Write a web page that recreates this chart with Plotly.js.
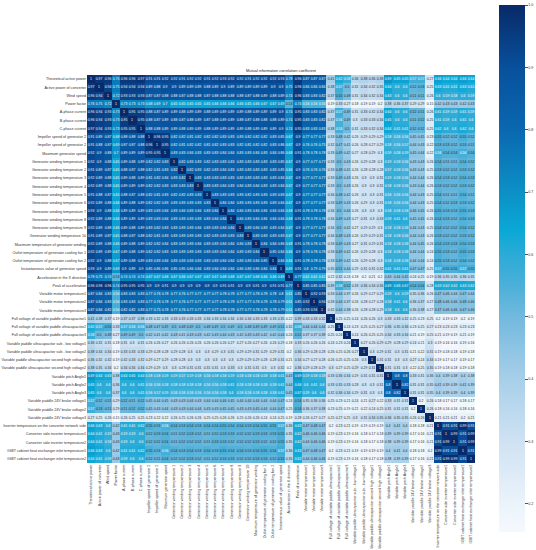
<!DOCTYPE html>
<html><head><meta charset="utf-8">
<script src="https://cdn.plot.ly/plotly-3.0.1.min.js"></script>
<style>html,body{margin:0;padding:0;background:#fff}</style></head>
<body><div id="chart" style="width:536px;height:550px"></div>
<script>
const labels = ["Theoretical active power","Active power of converter","Wind speed","Power factor","A-phase current","B-phase current","C-phase current","Impeller speed of generator 2","Impeller speed of generator 2","Maximum generator speed","Generator winding temperature 1","Generator winding temperature 2","Generator winding temperature 3","Generator winding temperature 4","Generator winding temperature 5","Generator winding temperature 6","Generator winding temperature 7","Generator winding temperature 8","Generator winding temperature 9","Generator winding temperature 10","Maximum temperature of generator winding","Outlet temperature of generator cooling fan 1","Outlet temperature of generator cooling fan 2","Instantaneous value of generator speed","Acceleration in the X direction","Peak of acceleration","Variable motor temperature1","Variable motor temperature2","Variable motor temperature3","Full voltage of variable paddle ultracapacitor1","Full voltage of variable paddle ultracapacitor2","Full voltage of variable paddle ultracapacitor3","Variable paddle ultracapacitor sub - low voltage1","Variable paddle ultracapacitor sub - low voltage2","Variable paddle ultracapacitor second high voltage1","Variable paddle ultracapacitor second high voltage2","Variable pitch Angle1","Variable pitch Angle2","Variable pitch Angle3","Variable paddle 24V brake voltage1","Variable paddle 24V brake voltage2","Variable paddle 24V brake voltage3","Inverter temperature on the converter network side","Converter side inverter temperature1","Converter side inverter temperature2","IGBT cabinet heat exchanger inlet temperature1","IGBT cabinet heat exchanger inlet temperature2"];

// Upper triangle of the symmetric matrix: each row starts at its diagonal cell.
const r01 = [1,.97,.96,.76,.96,.96,.97,.91,.91,.92,.92,.91,.92,.92,.91,.92,.93,.92,.92,.91,.92,.92,.92,.93,.78,.96,.87,.87,.87,.41,.62,.58,.36,.38,.36,.38,.69,.65,.65,.57,.57,.27,.66,.64,.64,.66,.64];
const r02 = [1,.94,.75,.94,.94,.94,.89,.88,.9,.9,.89,.89,.89,.88,.89,.9,.89,.89,.89,.89,.89,.9,.9,.75,.96,.84,.84,.84,.38,.57,.5,.32,.34,.32,.35,.64,.6,.6,.52,.53,.25,.63,.61,.61,.63,.61];
const r03 = [1,.72,.93,.93,.93,.87,.87,.88,.88,.87,.88,.88,.87,.88,.88,.88,.88,.87,.88,.89,.88,.89,.74,.96,.83,.83,.82,.37,.55,.48,.31,.34,.32,.34,.63,.6,.6,.51,.51,.26,.6,.59,.58,.6,.59];
const r04 = [1,.73,.73,.73,.68,.69,.7,.65,.65,.65,.65,.65,.66,.66,.66,.66,.65,.66,.67,.67,.69,.53,.74,.56,.56,.56,.19,.33,.27,.18,.19,.19,.2,.38,.36,.37,.29,.29,.15,.42,.43,.43,.42,.43];
const r05 = [1,.95,.95,.88,.87,.89,.89,.88,.89,.89,.88,.89,.89,.89,.89,.88,.89,.89,.89,.9,.74,.95,.83,.83,.82,.37,.57,.49,.31,.33,.32,.34,.64,.6,.6,.52,.51,.26,.61,.59,.59,.61,.59];
const r06 = [1,.95,.88,.87,.89,.88,.87,.88,.89,.87,.88,.89,.89,.88,.87,.88,.88,.88,.89,.74,.95,.83,.83,.82,.37,.56,.49,.3,.33,.33,.34,.65,.6,.6,.51,.52,.25,.61,.59,.6,.61,.6];
const r07 = [1,.88,.88,.89,.89,.88,.89,.89,.88,.89,.89,.89,.89,.88,.89,.89,.89,.9,.74,.95,.83,.83,.83,.38,.56,.5,.31,.33,.32,.34,.64,.61,.61,.52,.52,.25,.62,.6,.6,.62,.6];
const r08 = [1,.96,.95,.82,.82,.81,.82,.82,.82,.83,.83,.83,.82,.82,.82,.83,.85,.67,.9,.77,.77,.77,.33,.48,.42,.26,.29,.29,.29,.58,.56,.56,.45,.45,.23,.55,.52,.52,.55,.52];
const r09 = [1,.95,.82,.81,.82,.82,.81,.82,.83,.83,.82,.81,.82,.82,.83,.86,.67,.9,.76,.76,.75,.32,.47,.41,.26,.28,.27,.29,.58,.56,.57,.44,.43,.22,.53,.53,.52,.53,.51];
const r10 = [1,.83,.83,.84,.83,.83,.83,.84,.84,.83,.83,.84,.83,.84,.86,.68,.91,.78,.78,.78,.33,.49,.42,.27,.28,.29,.3,.59,.58,.59,.45,.44,.22,.56,.54,.54,.56,.54];
const r11 = [1,.82,.83,.83,.82,.83,.83,.83,.83,.83,.83,.83,.83,.85,.67,.9,.77,.77,.77,.33,.5,.43,.26,.29,.28,.3,.59,.58,.56,.43,.43,.26,.54,.51,.51,.54,.52];
const r12 = [1,.82,.83,.82,.83,.84,.83,.83,.83,.83,.83,.83,.85,.66,.9,.76,.76,.76,.33,.48,.41,.26,.28,.28,.28,.57,.58,.56,.43,.43,.25,.53,.52,.52,.53,.52];
const r13 = [1,.83,.83,.83,.83,.83,.83,.83,.83,.83,.83,.84,.67,.9,.77,.77,.77,.33,.49,.43,.26,.3,.3,.31,.59,.58,.56,.44,.44,.26,.54,.53,.52,.54,.53];
const r14 = [1,.83,.83,.84,.83,.84,.83,.84,.83,.83,.84,.67,.9,.77,.77,.77,.33,.5,.43,.26,.3,.3,.31,.58,.58,.56,.43,.44,.26,.53,.52,.52,.53,.52];
const r15 = [1,.83,.83,.83,.83,.82,.83,.83,.83,.83,.67,.9,.77,.77,.77,.34,.48,.42,.26,.3,.3,.31,.56,.56,.56,.44,.43,.25,.54,.51,.51,.54,.51];
const r16 = [1,.84,.84,.83,.83,.83,.83,.83,.84,.67,.9,.77,.77,.77,.33,.49,.43,.26,.29,.3,.31,.58,.56,.56,.44,.43,.25,.54,.52,.53,.53,.52];
const r17 = [1,.84,.84,.83,.84,.84,.84,.84,.68,.91,.78,.78,.78,.34,.5,.44,.26,.3,.3,.3,.58,.58,.58,.46,.45,.26,.55,.53,.53,.55,.53];
const r18 = [1,.84,.83,.84,.84,.84,.84,.68,.91,.78,.78,.78,.34,.49,.43,.27,.31,.3,.33,.59,.61,.6,.45,.45,.26,.54,.53,.52,.54,.53];
const r19 = [1,.83,.84,.83,.83,.84,.67,.9,.77,.77,.77,.34,.5,.42,.27,.29,.29,.3,.58,.58,.58,.44,.43,.25,.54,.52,.52,.54,.52];
const r20 = [1,.83,.83,.83,.83,.67,.9,.77,.77,.77,.34,.48,.43,.26,.29,.29,.31,.58,.58,.56,.44,.43,.26,.53,.52,.52,.53,.52];
const r21 = [1,.84,.84,.86,.68,.91,.78,.78,.78,.33,.49,.43,.27,.31,.29,.31,.58,.58,.58,.44,.45,.26,.54,.53,.53,.54,.53];
const r22 = [1,.85,.84,.66,.9,.78,.78,.78,.33,.49,.42,.26,.29,.28,.3,.58,.58,.58,.44,.44,.24,.55,.53,.52,.55,.53];
const r23 = [1,.84,.66,.91,.78,.78,.78,.33,.49,.42,.26,.29,.28,.3,.58,.58,.58,.44,.44,.24,.55,.53,.52,.54,.52];
const r24 = [1,.69,.91,.8,.79,.79,.35,.51,.44,.29,.31,.31,.32,.61,.61,.61,.47,.47,.25,.57,.55,.55,.57,.55];
const r25 = [1,.77,.61,.61,.61,.22,.32,.24,.18,.2,.21,.2,.43,.44,.45,.24,.25,.19,.36,.35,.35,.36,.35];
const r26 = [1,.85,.85,.85,.39,.58,.52,.33,.36,.34,.36,.69,.66,.67,.54,.54,.28,.63,.62,.62,.63,.62];
const r27 = [1,.92,.93,.33,.44,.37,.26,.29,.27,.29,.59,.6,.59,.35,.36,.26,.47,.46,.44,.47,.44];
const r28 = [1,.94,.33,.44,.37,.26,.28,.27,.28,.58,.61,.6,.36,.37,.27,.48,.46,.46,.48,.46];
const r29 = [1,.32,.44,.38,.26,.28,.28,.29,.58,.6,.6,.36,.38,.27,.47,.46,.46,.47,.46];
const r30 = [1,.25,.25,.24,.26,.26,.3,.33,.33,.32,.25,.23,.25,.2,.19,.19,.2,.19];
const r31 = [1,.24,.23,.25,.25,.27,.36,.35,.36,.23,.25,.27,.23,.23,.23,.23,.23];
const r32 = [1,.24,.26,.25,.25,.34,.33,.34,.21,.19,.25,.21,.19,.19,.21,.19];
const r33 = [1,.27,.26,.29,.29,.28,.29,.24,.21,.3,.19,.16,.16,.19,.16];
const r34 = [1,.3,.29,.31,.3,.31,.21,.22,.31,.19,.18,.18,.19,.18];
const r35 = [1,.31,.31,.3,.3,.27,.24,.34,.19,.17,.17,.19,.17];
const r36 = [1,.31,.31,.3,.22,.25,.35,.19,.18,.18,.19,.18];
const r37 = [1,.8,.8,.33,.31,.36,.4,.39,.38,.4,.38];
const r38 = [1,.82,.31,.31,.35,.41,.39,.39,.41,.39];
const r39 = [1,.31,.31,.35,.4,.39,.39,.4,.39];
const r40 = [1,.2,.26,.18,.17,.17,.18,.17];
const r41 = [1,.26,.18,.16,.16,.18,.16];
const r42 = [1,.21,.21,.21,.2,.21];
const r43 = [1,.91,.91,.99,.91];
const r44 = [1,.99,.91,.99];
const r45 = [1,.91,.99];
const r46 = [1,.91];
const r47 = [1];
const upper = [r01,r02,r03,r04,r05,r06,r07,r08,r09,r10,r11,r12,r13,r14,r15,r16,r17,r18,r19,r20,r21,r22,r23,r24,r25,r26,r27,r28,r29,r30,r31,r32,r33,r34,r35,r36,r37,r38,r39,r40,r41,r42,r43,r44,r45,r46,r47];

const n = labels.length;
const z = upper.map((row,i)=>Array.from({length:n},(_,j)=> j>=i ? row[j-i] : upper[j][i-j]));
const whiteFrom = 0.56;
const textHigh = z.map(row=>row.map(v=> v>=whiteFrom ? String(v) : ""));
const zLow = z.map(row=>row.map(v=> v<whiteFrom ? v : null));
const textLow = z.map(row=>row.map(v=> v<whiteFrom ? String(v) : ""));

const zMin = 0.155, zMax = 1;
const scaleVals = [0.155,0.2,0.3,0.4,0.5,0.55,0.6,0.64,0.7,0.8,0.9,1];
const scaleCols = ["#f5f9fd","#ebf3fb","#cfe2f3","#a8cfe9","#72b9de","#4bb0d9","#2babd6","#0aa8d6","#0c90c6","#0a68b0","#08509c","#082a68"];
const colorscale = scaleVals.map((v,i)=>[(v-zMin)/(zMax-zMin),scaleCols[i]]);

const fontFam = '"Liberation Sans", Arial, sans-serif';
const xy = labels.map((_,i)=>i);
Plotly.newPlot("chart",[{
  type:"heatmap", z, x:xy, y:xy, zmin:zMin, zmax:zMax, colorscale,
  text:textHigh, texttemplate:"%{text}", textfont:{size:3.4,family:fontFam,color:"#ffffff"},
  colorbar:{x:(499-87)/388,xanchor:"left",xpad:0,y:1+70/388,yanchor:"top",ypad:0,lenmode:"pixels",len:527,thicknessmode:"pixels",thickness:26,
    outlinewidth:0,tick0:0,dtick:0.1,tickformat:".1f",ticks:"outside",ticklen:3,tickwidth:0.5,tickcolor:"#555",tickfont:{size:3.6,color:"#333",family:fontFam}}
},{
  type:"heatmap", z:zLow, x:xy, y:xy, zmin:zMin, zmax:zMax, colorscale, showscale:false,
  text:textLow, texttemplate:"%{text}", textfont:{size:3.4,family:fontFam,color:"#262626"}
}],{
  width:536,height:550,paper_bgcolor:"#fff",plot_bgcolor:"#fff",
  margin:{l:87,r:61,t:75,b:87,autoexpand:false},
  title:{text:"Mutual information correlation coefficient",font:{size:3.9,color:"#222",family:fontFam},x:281/536,xanchor:"center",y:1-71/550,yanchor:"middle"},
  xaxis:{tickmode:"array",tickvals:xy,ticktext:labels,tickangle:-90,side:"bottom",ticks:"",showgrid:false,zeroline:false,showline:false,tickfont:{size:3.7,color:"#333",family:fontFam},automargin:false},
  yaxis:{tickmode:"array",tickvals:xy,ticktext:labels,autorange:"reversed",ticks:"",showgrid:false,zeroline:false,showline:false,tickfont:{size:3.7,color:"#333",family:fontFam},automargin:false}
},{displayModeBar:false,responsive:false});
</script></body></html>
